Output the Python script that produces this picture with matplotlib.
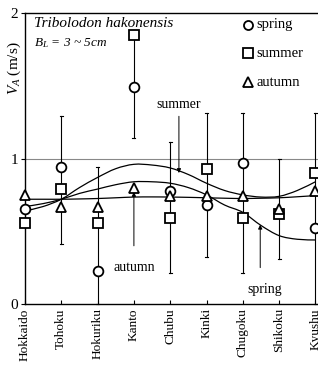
import numpy as np
import matplotlib
matplotlib.use("Agg")
import matplotlib.pyplot as plt
from matplotlib.path import Path
from matplotlib.patches import PathPatch

plt.rcParams['font.family'] = ['Liberation Serif', 'DejaVu Serif']
plt.rcParams['mathtext.fontset'] = 'custom'
plt.rcParams['mathtext.rm'] = 'Liberation Serif'
plt.rcParams['mathtext.it'] = 'Liberation Serif:italic'

regions = ["Hokkaido", "Tohoku", "Hokuriku", "Kanto", "Chubu", "Kinki",
           "Chugoku", "Shikoku", "Kyushu"]
spring = [0.65, 0.94, 0.23, 1.49, 0.78, 0.68, 0.97, np.nan, 0.52]
summer = [0.56, 0.79, 0.56, 1.85, 0.59, 0.93, 0.59, 0.62, 0.90]
autumn = [0.75, 0.67, 0.67, 0.80, 0.74, 0.74, 0.74, 0.65, 0.78]
bar_low = [np.nan, 0.41, 0.00, 1.14, 0.21, 0.32, 0.21, 0.31, 0.00]
bar_high = [np.nan, 1.29, 0.94, 1.85, 1.11, 1.31, 1.31, 1.00, 1.31]

# fitted curves read at half-category steps
curve_x = [0, 0.5, 1, 1.5, 2, 2.5, 3, 3.5, 4, 4.5, 5, 5.5, 6, 6.5, 7, 7.5, 8]
curve_summer = [0.64, 0.67, 0.72, 0.80, 0.87, 0.93, 0.96, 0.955, 0.935, 0.89,
                0.83, 0.78, 0.75, 0.735, 0.74, 0.78, 0.84]
curve_spring = [0.67, 0.69, 0.72, 0.76, 0.79, 0.82, 0.84, 0.84, 0.83, 0.80,
                0.75, 0.68, 0.63, 0.54, 0.47, 0.445, 0.44]
curve_autumn = [0.72, 0.72, 0.72, 0.722, 0.725, 0.73, 0.735, 0.736, 0.735, 0.733,
                0.73, 0.727, 0.725, 0.727, 0.73, 0.737, 0.745]

W, H = 318, 370
fig = plt.figure(figsize=(W / 100, H / 100), dpi=100)
left_px, top_px, bottom_px = 25, 13, 304
xmax = 8.25
dx_px = 36.3
ax = fig.add_axes([left_px / W, (H - bottom_px) / H,
                   dx_px * xmax / W, (bottom_px - top_px) / H])
ax.set_xlim(0, xmax)
ax.set_ylim(0, 2)

x = np.arange(len(regions))


def smooth_curve(xs, ys):
    xs = np.asarray(xs, float)
    ys = np.asarray(ys, float)
    pts = np.column_stack([xs, ys])
    verts = [pts[0]]
    codes = [Path.MOVETO]
    n = len(pts)
    for i in range(n - 1):
        p0 = pts[i - 1] if i > 0 else pts[i]
        p1 = pts[i]
        p2 = pts[i + 1]
        p3 = pts[i + 2] if i + 2 < n else pts[i + 1]
        c1 = p1 + (p2 - p0) / 6.0
        c2 = p2 - (p3 - p1) / 6.0
        verts += [c1, c2, p2]
        codes += [Path.CURVE4] * 3
    return Path(verts, codes)


for cy in (curve_summer, curve_spring, curve_autumn):
    ax.add_patch(PathPatch(smooth_curve(curve_x, cy), fill=False,
                           edgecolor='black', lw=0.9, zorder=3))

# grid line at 1
ax.axhline(1.0, color='#888888', lw=0.8, zorder=1)

# error bars
for xi, lo, hi in zip(x, bar_low, bar_high):
    if np.isnan(lo):
        continue
    ax.plot([xi, xi], [lo, hi], color='black', lw=0.8, zorder=2, clip_on=False)
    for yv in (lo, hi):
        ax.plot([xi - 0.04, xi + 0.04], [yv, yv], color='black', lw=0.8,
                zorder=2, clip_on=False)

mk = dict(mfc='white', mec='black', mew=1.3, ls='none', ms=7, zorder=5,
          clip_on=False)
ax.plot(x, spring, marker='o', **mk)
ax.plot(x, summer, marker='s', **mk)
ax.plot(x, autumn, marker='^', **mk)

# legend (manual)
leg_items = [('o', 'spring', 1.92), ('s', 'summer', 1.725), ('^', 'autumn', 1.525)]
for m, lab, yv in leg_items:
    ax.plot([6.13], [yv], marker=m, mfc='white', mec='black', mew=1.3, ms=6.5,
            ls='none', zorder=6)
    ax.text(6.38, yv, lab, fontsize=10.5, va='center', ha='left')

ax.text(0.24, 1.93, 'Tribolodon hakonensis', fontsize=11, style='italic',
        va='center', ha='left')
ax.text(0.24, 1.79, r'$B_L$ = 3 ~ 5$cm$', fontsize=9.5, va='center',
        ha='left', style='italic')

# annotations
ax.annotate('', xy=(4.24, 0.90), xytext=(4.24, 1.29),
            arrowprops=dict(arrowstyle='-|>', lw=0.7, color='black',
                            mutation_scale=6, shrinkA=0, shrinkB=0))
ax.text(4.24, 1.37, 'summer', fontsize=10, ha='center', va='center')
ax.annotate('', xy=(3.0, 0.77), xytext=(3.0, 0.40),
            arrowprops=dict(arrowstyle='-|>', lw=0.7, color='black',
                            mutation_scale=6, shrinkA=0, shrinkB=0))
ax.text(3.0, 0.25, 'autumn', fontsize=10, ha='center', va='center')
ax.annotate('', xy=(6.48, 0.545), xytext=(6.48, 0.25),
            arrowprops=dict(arrowstyle='-|>', lw=0.7, color='black',
                            mutation_scale=6, shrinkA=0, shrinkB=0))
ax.text(6.6, 0.10, 'spring', fontsize=10, ha='center', va='center')

ax.set_yticks([0, 1, 2])
ax.set_yticklabels(['0', '1', '2'], fontsize=11)
ax.set_xticks(x)
ax.set_xticklabels(regions, rotation=90, fontsize=9.5, va='top', ha='center')
ax.tick_params(axis='y', direction='out', length=3, width=0.8, pad=2)
ax.tick_params(axis='x', direction='in', length=3, width=0.8, pad=3)
for s in ax.spines.values():
    s.set_linewidth(1.0)

fig.text(14 / W, 1 - 68 / H, r'$V_A$ (m/s)', rotation=90, fontsize=11,
         ha='center', va='center')

fig.savefig('out.png', dpi=100)
